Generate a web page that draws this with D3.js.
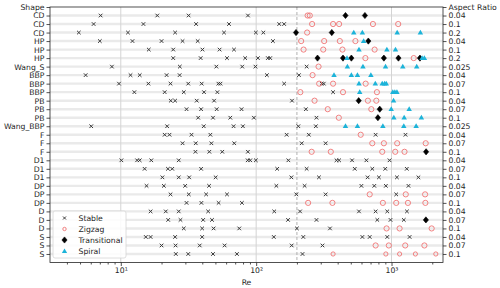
<!DOCTYPE html>
<html><head><meta charset="utf-8">
<script src="https://cdn.jsdelivr.net/npm/d3@7"></script>
<style>body{margin:0;background:#fff}svg{display:block;font-family:"DejaVu Sans",sans-serif}</style>
</head><body><svg id="c" width="500" height="288"></svg>
<script>
const shapes = ["CD","CD","CD","HP","HP","HP","Wang_S","BBP","BBP","BBP","PB","PB","PB","Wang_BBP","F","F","F","D1","D1","D1","DP","DP","DP","D","D","D","S","S","S"];
const ratios = ["0.04","0.1","0.2","0.04","0.1","0.2","0.025","0.04","0.07","0.1","0.04","0.07","0.1","0.025","0.04","0.07","0.1","0.04","0.07","0.1","0.04","0.07","0.1","0.04","0.07","0.1","0.04","0.07","0.1"];
const stable = [
  [7.1,18.6,31.7,87],
  [6.3,14.7,36,63,148,161],
  [4.9,11.3,25.2,57.9,99.5,113],
  [7.0,12.2,20.0,28.6,37.0,133],
  [16.1,24.4,40.1,53.7,68.6],
  [24.4,38.9,60.9,83.0,103,122,127],
  [8.6,27.3,50.8,78.9,98.8,236],
  [5.5,11.8,13.8,21.8,27.2,120,207],
  [9.7,16.0,23.3,31.5,39.6,52.6,54.5,161,305,316],
  [12.6,21.1,29.2,41.2,51.7,370],
  [23.4,25.2,36.4,48.9,184],
  [30.6,39.2,51.1,78.0,233],
  [37.3,48.0,64.4,96.2,279],
  [6.05,22.0,41.0,68.1,79.8,205,276],
  [21.1,22.9,33.3,45.9,168,245,763,1268],
  [28.6,35.8,46.7,68.9,217,326],
  [35.6,45.1,56.2,86.9],
  [10.1,13.2,13.8,16.8,26.8,86.6,90.4,99.5,173,392,410,511,652,967],
  [15.0,22.3,24.0,39.2,143,236,535,721,899,1296],
  [20.3,26.8,32.0,50.2,182,291,666,807,1096,1580],
  [15.5,20.8,29.9,44.9,141,228,599,746,908,1334],
  [23.3,31.8,42.7,60.9,198,326,1083],
  [30.6,39.4,52.8,78.5],
  [16.6,21.5,26.8,44.2,136,211,575,763,930,1300],
  [22.4,27.6,40.6,47.2,172,279,785,983,1232],
  [29.2,39.9,48.5,75.0,200,351],
  [15.3,16.6,25.2,39.9,135,223,609,690,930,1360],
  [20.0,25.4,38.3,58.5,183,309],
  [25.5,31.5,48.0,72.1,220]
];
const zigzag = [
  [240,249],
  [259,370,410,729,1120],
  [238],
  [215,318,415,541],
  [224,313,434,750],
  [641,1459],
  [289],
  [261],
  [292,370,644],
  [212,438,780],
  [270,669,772],
  [338,709],
  [408],
  [],
  [592],
  [721,878,1101,1788],
  [257,356,854,1065,1247],
  [],[],[],[],
  [690,1274,1770],
  [242,366,863,1083,1322,1778],
  [],
  [],
  [919,1147,1979],
  [],
  [763,955,1262,1749],
  [370,908,1147,1501,2124]
];
const transitional = [
  [457,636],[],[197,362],[674],[],[284,438,505,878,1125,1621],[],[],[],[],
  [572],[818],[793],[],[],[],[1800],[],[],[],[],[],[],[],[1794],[],[],[],[]
];
const spiral = [
  [],[],[526,609,1101,1634],[622],[575,924,1070],[469,1682,1749],[472,615,903,1211,1535],
  [376,505,560,704],[575,759,854,889,914],[582,1022,1058,1096],[1035],[995,1350],[1040,1240,1662],
  [457,560,863,1232,1520],[],[],[],[],[],[],[],[],[],[],[],[],[],[],[]
];
const xMajor = [10,100,1000];
const xMinor = [4,5,6,7,8,9,20,30,40,50,60,70,80,90,200,300,400,500,600,700,800,900,2000];
const criticalRe = 200;
const legendNames = ["Stable","Zigzag","Transitional","Spiral"];

const svg = d3.select("#c");
const L=50,R=443,T=7,B=262.5;
const x = d3.scaleLog().domain([3,2400]).range([L,R]);
const y = d3.scaleLinear().domain([0,30]).range([T,B]);
const fs = 7.7, ink="#262626";

// row bands
svg.append("g").selectAll("line").data(d3.range(1,30)).join("line")
  .attr("x1",L).attr("x2",R).attr("y1",d=>y(d)).attr("y2",d=>y(d))
  .attr("stroke","#eaeaea").attr("stroke-width",2.4);
// vertical grid
svg.append("g").selectAll("line").data(xMajor).join("line")
  .attr("x1",d=>x(d)).attr("x2",d=>x(d)).attr("y1",T).attr("y2",B)
  .attr("stroke","#d4d4d4").attr("stroke-width",1);
svg.append("line").attr("x1",x(criticalRe)).attr("x2",x(criticalRe)).attr("y1",T).attr("y2",B)
  .attr("stroke","#a8a8a8").attr("stroke-width",0.9).attr("stroke-dasharray","3,2");

function rowPts(arr){const o=[];arr.forEach((r,i)=>r.forEach(v=>o.push({row:i+1,v})));return o;}
function diamondPath(cx,cy,w,h){return `M${cx},${cy-h}L${cx+w},${cy}L${cx},${cy+h}L${cx-w},${cy}Z`;}
const gS = svg.append("g");
rowPts(stable).forEach(p=>{
  const cx=x(p.v), cy=y(p.row), s=1.8;
  gS.append("path").attr("d",`M${cx-s},${cy-s}L${cx+s},${cy+s}M${cx-s},${cy+s}L${cx+s},${cy-s}`)
    .attr("stroke","#3a3a3a").attr("stroke-width",1).attr("fill","none");
});
svg.append("g").selectAll("circle").data(rowPts(zigzag)).join("circle")
  .attr("cx",d=>x(d.v)).attr("cy",d=>y(d.row)).attr("r",d=>d.row===29?2.1:2.6)
  .attr("fill","none").attr("stroke","#ef7474").attr("stroke-width",0.9);
svg.append("g").selectAll("path").data(rowPts(transitional)).join("path")
  .attr("d",d=>diamondPath(x(d.v),y(d.row),2.6,3.1))
  .attr("fill","#000").attr("stroke","#000").attr("stroke-width",0.6);
const tri = d3.symbol().type(d3.symbolTriangle).size(13);
svg.append("g").selectAll("path").data(rowPts(spiral)).join("path")
  .attr("transform",d=>`translate(${x(d.v)},${y(d.row)+0.3})`).attr("d",tri)
  .attr("fill","#1cb3d9");

// frame
svg.append("rect").attr("x",L).attr("y",T).attr("width",R-L).attr("height",B-T)
  .attr("fill","none").attr("stroke",ink).attr("stroke-width",0.8);

// axes
const la = d3.axisLeft(y).tickValues(d3.range(30)).tickSize(3.5).tickPadding(2)
  .tickFormat(d=>d===0?"Shape":shapes[d-1]);
const gl = svg.append("g").attr("transform",`translate(${L},0)`).call(la);
const ra = d3.axisRight(y).tickValues(d3.range(30)).tickSize(3.5).tickPadding(2)
  .tickFormat(d=>d===0?"Aspect Ratio":ratios[d-1]);
const gr = svg.append("g").attr("transform",`translate(${R},0)`).call(ra);
const ba = d3.axisBottom(x).tickValues(xMajor).tickSize(3.5).tickPadding(2)
  .tickFormat(d=>"10"+{10:"¹",100:"²",1000:"³"}[d]);
const gb = svg.append("g").attr("transform",`translate(0,${B})`).call(ba);
const bm = d3.axisBottom(x).tickValues(xMinor).tickSize(2).tickFormat("");
const gm = svg.append("g").attr("transform",`translate(0,${B})`).call(bm);
[gl,gr,gb,gm].forEach(g=>{
  g.select(".domain").remove();
  g.selectAll(".tick line").attr("stroke",ink).attr("stroke-width",0.8);
  g.selectAll("text").attr("font-size",fs).attr("fill",ink).attr("font-family","DejaVu Sans");
});
svg.append("text").attr("x",(L+R)/2).attr("y",285).attr("text-anchor","middle")
  .attr("font-size",fs).attr("fill",ink).text("Re");

// legend
const lg = svg.append("g");
lg.append("rect").attr("x",53).attr("y",211).attr("width",73).attr("height",47).attr("rx",2)
  .attr("fill","#fff").attr("fill-opacity",0.85).attr("stroke","#d6d6d6").attr("stroke-width",0.8);
const ly = [218,229,240,251.3], lx=64.5;
legendNames.forEach((n,i)=>{
  const cy=ly[i];
  if(i===0){const s=1.5;lg.append("path").attr("d",`M${lx-s},${cy-s}L${lx+s},${cy+s}M${lx-s},${cy+s}L${lx+s},${cy-s}`).attr("stroke","#3a3a3a").attr("stroke-width",1);}
  if(i===1){lg.append("circle").attr("cx",lx).attr("cy",cy).attr("r",1.7).attr("fill","none").attr("stroke","#ef7474").attr("stroke-width",0.9);}
  if(i===2){lg.append("path").attr("d",diamondPath(lx,cy,2.6,3.1)).attr("fill","#000").attr("stroke","#000").attr("stroke-width",0.6);}
  if(i===3){lg.append("path").attr("transform",`translate(${lx},${cy+0.3})`).attr("d",d3.symbol().type(d3.symbolTriangle).size(12)).attr("fill","#1cb3d9");}
  lg.append("text").attr("x",78.5).attr("y",cy).attr("dy","0.35em").attr("font-size",fs).attr("fill",ink).text(n);
});
</script></body></html>
